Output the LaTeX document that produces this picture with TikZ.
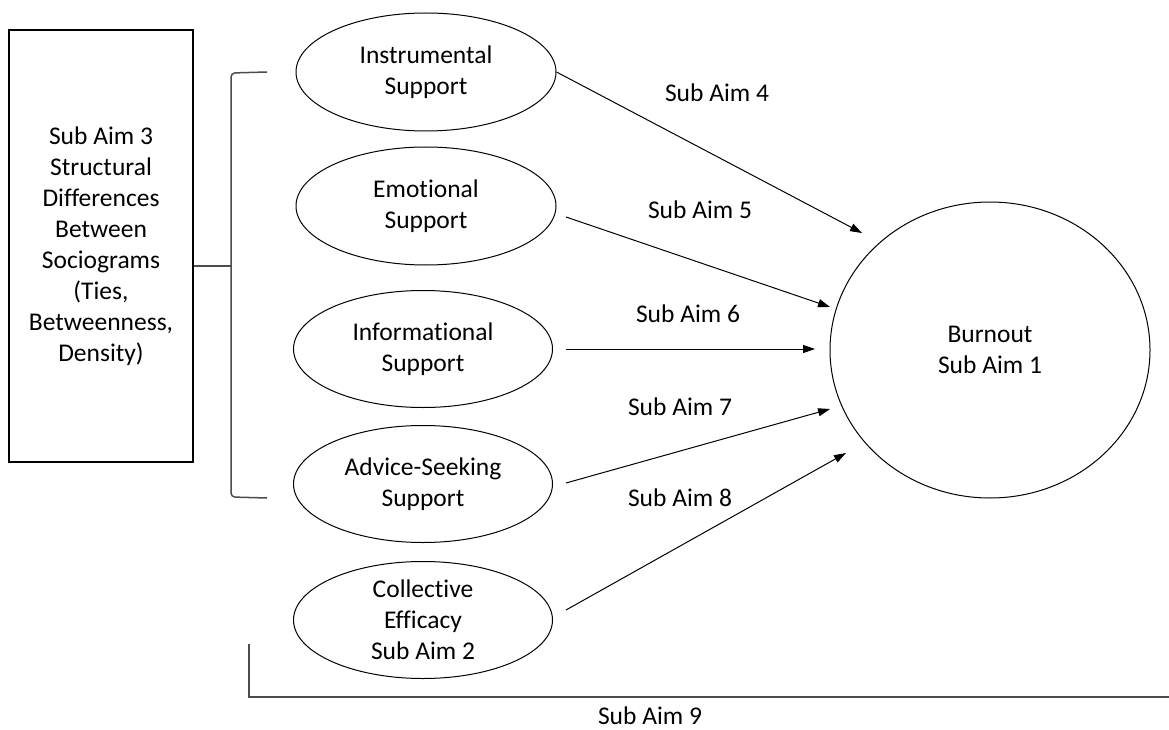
\documentclass[tikz,border=0pt]{standalone}
\usepackage{fontspec}
\setmainfont{Carlito}[Ligatures=NoCommon]
\usetikzlibrary{shapes.geometric,arrows.meta}
\begin{document}
\begin{tikzpicture}[x=1pt,y=-1pt,
  every node/.style={font=\fontsize{25.5}{31}\selectfont, align=center, inner sep=0pt},
  oval/.style={draw, ellipse, line width=1pt, minimum width=259pt, minimum height=117pt},
  rel/.style={line width=1pt, -{Triangle[length=12pt,width=8pt]}},
  frame/.style={draw=black!70, line width=1.5pt}
]
\useasboundingbox (0,0) rectangle (1169,730);

% left box
\node[draw, line width=1.3pt, minimum width=184pt, minimum height=432pt] (box) at (101,246)
  {Sub Aim 3\\Structural\\Differences\\Between\\Sociograms\\(Ties,\\Betweenness,\\Density)};

% support constructs
\node[oval, minimum width=260pt, minimum height=118pt] (ins) at (426,72) {Instrumental\\Support};
\node[oval, minimum width=260pt, minimum height=118pt] (emo) at (426,206) {Emotional\\Support};
\node[oval] (inf) at (423,349) {Informational\\Support};
\node[oval] (adv) at (423,484) {Advice-Seeking\\Support};
\node[oval] (col) at (423,620) {Collective\\Efficacy\\Sub Aim 2};

% outcome
\node[oval, minimum width=320pt, minimum height=296pt] (burn) at (990,350) {Burnout\\Sub Aim 1};

% arrow start and end points
\coordinate (f5) at (566,217);
\coordinate (f6) at (566,349);
\coordinate (f7) at (566,483);
\coordinate (f8) at (566,610);
\coordinate (t4) at (862,233);
\coordinate (t5) at (830,307);
\coordinate (t6) at (815,349);
\coordinate (t7) at (830,409);
\coordinate (t8) at (846,453);

\draw[rel] (ins.east) -- (t4);
\draw[rel] (f5) -- (t5);
\draw[rel] (f6) -- (t6);
\draw[rel] (f7) -- (t7);
\draw[rel] (f8) -- (t8);

% path labels
\node (l4) at (717,93) {Sub Aim 4};
\node (l5) at (700,210) {Sub Aim 5};
\node (l6) at (688,314) {Sub Aim 6};
\node (l7) at (680,407) {Sub Aim 7};
\node (l8) at (680,498) {Sub Aim 8};
\node (l9) at (650,716) {Sub Aim 9};

% bracket grouping the network measures
\coordinate (brk) at (231,266);
\draw[frame] (box.east |- brk) -- (brk);
\draw[frame, rounded corners=4pt] (267,72) -- (231,73) -- (231,497) -- (267,498);

% bottom bracket
\coordinate (bl) at (249,697);
\draw[frame] (249,644) -- (bl) -- (1169,697);
\end{tikzpicture}
\end{document}
